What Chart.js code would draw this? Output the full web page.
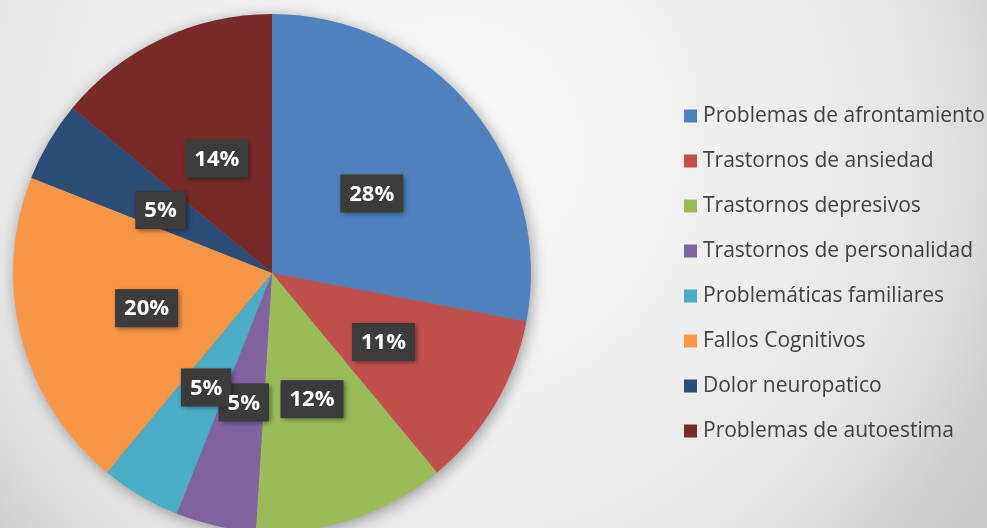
<!DOCTYPE html>
<html>
<head>
<meta charset="utf-8">
<script src="https://cdn.jsdelivr.net/npm/chart.js@4"></script>
<style>
  html, body { margin: 0; padding: 0; overflow: hidden; }
  #wrap {
    width: 987px; height: 528px; position: relative;
    background: radial-gradient(circle 660px at 450px 150px,
      #f8f8f8 0%, #f4f4f4 25%, #e6e6e6 70%, #d9d9d9 82%, #cfcfcf 89%, #c9c9c9 100%);
  }
</style>
</head>
<body>
<div id="wrap"><canvas id="chart" width="987" height="528"></canvas></div>
<script>
const categories = [
  'Problemas de afrontamiento',
  'Trastornos de ansiedad',
  'Trastornos depresivos',
  'Trastornos de personalidad',
  'Problemáticas familiares',
  'Fallos Cognitivos',
  'Dolor neuropatico',
  'Problemas de autoestima'
];
const values = [28, 11, 12, 5, 5, 20, 5, 14];
const colors = ['#4f81bd', '#c0504d', '#9bbb59', '#8064a2', '#4bacc6', '#f79646', '#2c4d75', '#772c2a'];

// soft shadow behind the pie
const pieShadow = {
  id: 'pieShadow',
  beforeDatasetsDraw(chart) {
    const arc = chart.getDatasetMeta(0).data[0];
    if (!arc) return;
    const ctx = chart.ctx;
    ctx.save();
    ctx.shadowColor = 'rgba(0,0,0,0.4)';
    ctx.shadowBlur = 16;
    ctx.shadowOffsetX = 2;
    ctx.shadowOffsetY = 3;
    ctx.fillStyle = '#888';
    ctx.beginPath();
    ctx.arc(arc.x, arc.y, arc.outerRadius - 1, 0, Math.PI * 2);
    ctx.fill();
    ctx.restore();
  }
};

// dark boxed percentage labels (boxes first, then texts so none get hidden)
const boxLabels = {
  id: 'boxLabels',
  afterDatasetsDraw(chart) {
    const ctx = chart.ctx;
    const total = values.reduce((a, b) => a + b, 0);
    ctx.save();
    ctx.font = 'bold 22px "Open Sans"';
    ctx.textAlign = 'center';
    ctx.textBaseline = 'middle';
    const items = chart.getDatasetMeta(0).data.map((arc, i) => {
      const mid = (arc.startAngle + arc.endAngle) / 2;
      const r = arc.outerRadius * 0.5;
      const txt = Math.round(values[i] / total * 100) + '%';
      return {
        x: arc.x + Math.cos(mid) * r,
        y: arc.y + Math.sin(mid) * r + 3,
        txt: txt,
        w: ctx.measureText(txt).width + 18
      };
    });
    const h = 38;
    items.forEach(it => {
      ctx.save();
      ctx.shadowColor = 'rgba(0,0,0,0.45)';
      ctx.shadowBlur = 5;
      ctx.shadowOffsetX = 2;
      ctx.shadowOffsetY = 2;
      ctx.fillStyle = '#3c3c3c';
      ctx.fillRect(it.x - it.w / 2, it.y - h / 2, it.w, h);
      ctx.restore();
    });
    ctx.fillStyle = '#ffffff';
    items.forEach(it => ctx.fillText(it.txt, it.x, it.y + 1));
    ctx.restore();
  }
};

// legend on the right
const sideLegend = {
  id: 'sideLegend',
  afterDraw(chart) {
    const ctx = chart.ctx;
    ctx.save();
    ctx.font = '21px "Open Sans"';
    ctx.textBaseline = 'middle';
    ctx.textAlign = 'left';
    categories.forEach((name, i) => {
      const cy = 116 + i * 45;
      ctx.fillStyle = colors[i];
      ctx.fillRect(684, cy - 6.5, 13, 13);
      ctx.fillStyle = '#404040';
      ctx.fillText(name, 703, cy);
    });
    ctx.restore();
  }
};

new Chart(document.getElementById('chart'), {
  type: 'pie',
  data: {
    labels: categories,
    datasets: [{
      data: values,
      backgroundColor: colors,
      borderWidth: 0,
      radius: 259
    }]
  },
  options: {
    responsive: false,
    animation: false,
    layout: { padding: { left: 13, right: 456, top: 18, bottom: 0 } },
    plugins: {
      legend: { display: false },
      tooltip: { enabled: false }
    }
  },
  plugins: [pieShadow, boxLabels, sideLegend]
});
</script>
</body>
</html>
